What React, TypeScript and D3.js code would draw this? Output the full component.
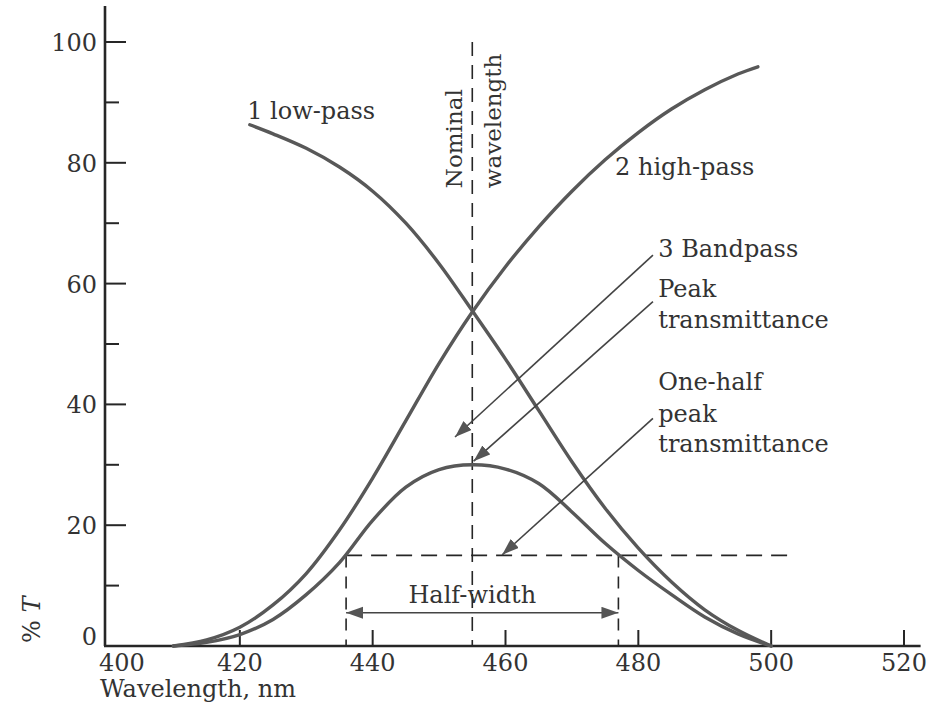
import React from "react";
import * as d3 from "d3";

// transmittance curves, [wavelength nm, %T]
const lowPass: [number, number][] = [
  [421.5, 86.3], [425, 84.8], [430, 82.4], [435, 79.3], [440, 75.3], [445, 70],
  [450, 63.3], [455, 55.5], [460, 47.5], [465, 39], [470, 30.5], [475, 22.8],
  [480, 16.2], [485, 10.6], [490, 6], [495, 2.6], [500, 0],
];
const highPass: [number, number][] = [
  [410, 0], [415, 1], [420, 3.1], [425, 6.8], [430, 12], [435, 19.2], [440, 27.8],
  [445, 37.3], [450, 46.8], [455, 55.3], [460, 62.8], [465, 69.4], [470, 75.3],
  [475, 80.5], [480, 85], [485, 88.9], [490, 92.1], [495, 94.7], [498, 95.9],
];
const bandPass: [number, number][] = [
  [410, 0], [415, 0.6], [420, 1.9], [425, 4.4], [430, 8.5], [435, 13.8], [440, 20.8],
  [445, 26.3], [450, 29.2], [455, 30], [460, 29.3], [465, 26.9], [470, 22.2],
  [475, 17], [480, 12.5], [485, 8.5], [490, 4.8], [495, 2], [500, 0],
];

const xTicks = [400, 420, 440, 460, 480, 500, 520];
const yTicks = [0, 20, 40, 60, 80, 100];
const yMinor = [10, 30, 50, 70, 90];

const nominal = 455;
const halfLevel = 15;
const halfLeft = 436;
const halfRight = 477;
const halfLineEnd = 502.5;
const halfArrowLevel = 5.5;

const curveLabels = [
  { text: "1 low-pass", x: 421.1, y: 87.2 },
  { text: "2 high-pass", x: 476.5, y: 78 },
];
const noteX = 483;
const noteLines = [
  { text: "3 Bandpass", y: 64.4 },
  { text: "Peak", y: 57.8 },
  { text: "transmittance", y: 52.6 },
  { text: "One-half", y: 42.4 },
  { text: "peak", y: 37.1 },
  { text: "transmittance", y: 32.1 },
];
const pointers = [
  { from: [482.2, 64.7], to: [452.4, 34.6] },
  { from: [482.2, 57.0], to: [455.2, 30.6] },
  { from: [482.2, 37.7], to: [459.5, 15.1] },
];

const W = 939;
const H = 709;
const font = "'DejaVu Serif', serif";
const ink = "#262626";
const textInk = "#333";
const curveInk = "#585858";

export default function App() {
  const x = d3.scaleLinear().domain([400, 520]).range([107, 904]);
  const y = d3.scaleLinear().domain([0, 100]).range([646, 42]);
  const line = d3
    .line<[number, number]>()
    .x((d) => x(d[0]))
    .y((d) => y(d[1]))
    .curve(d3.curveCatmullRom.alpha(0.5));

  return (
    <svg width={W} height={H} style={{ position: "absolute", left: 0, top: 0, background: "#fff" }}>
      <defs>
        <marker id="head" markerUnits="userSpaceOnUse" markerWidth={18} markerHeight={14}
          refX={17} refY={6} orient="auto-start-reverse">
          <path d="M0,0 L17,6 L0,12 Z" fill="#555" />
        </marker>
      </defs>

      {/* axes */}
      <line x1={105} x2={105} y1={6} y2={y(0)} stroke={ink} strokeWidth={2.6} />
      <line x1={104} x2={x(522.5)} y1={y(0)} y2={y(0)} stroke={ink} strokeWidth={2.6} />
      {yTicks.filter((t) => t > 0).map((t) => (
        <line key={"yt" + t} x1={105} x2={126} y1={y(t)} y2={y(t)} stroke={ink} strokeWidth={2} />
      ))}
      {yMinor.map((t) => (
        <line key={"ym" + t} x1={105} x2={119} y1={y(t)} y2={y(t)} stroke={ink} strokeWidth={2} />
      ))}
      {yTicks.map((t) => (
        <text key={"yl" + t} x={97} y={t === 0 ? y(t) - 1 : y(t) + 9} textAnchor="end"
          fontFamily={font} fontSize={24} fill={textInk}>{t}</text>
      ))}
      {xTicks.filter((t) => t > 400).map((t) => (
        <line key={"xt" + t} x1={x(t)} x2={x(t)} y1={y(0)} y2={y(0) - 16} stroke={ink} strokeWidth={2} />
      ))}
      {xTicks.map((t) => (
        <text key={"xl" + t} x={t === 400 ? x(t) - 8 : x(t)} y={671}
          textAnchor={t === 400 ? "start" : "middle"} fontFamily={font} fontSize={24} fill={textInk}>{t}</text>
      ))}
      <text x={100} y={697} fontFamily={font} fontSize={24} fill={textInk}>Wavelength, nm</text>
      <text transform="translate(40,643) rotate(-90)" fontFamily={font} fontSize={24} fill={textInk}>
        % <tspan fontStyle="italic">T</tspan>
      </text>

      {/* nominal wavelength */}
      <line x1={x(nominal)} x2={x(nominal)} y1={y(100)} y2={y(0)} stroke={ink}
        strokeWidth={1.6} strokeDasharray="14,9" />
      <text transform={`translate(${x(453.5)},${y(75.8)}) rotate(-90)`} fontFamily={font}
        fontSize={23} fill={textInk}>Nominal</text>
      <text transform={`translate(${x(459.3)},${y(75.8)}) rotate(-90)`} fontFamily={font}
        fontSize={23} fill={textInk}>wavelength</text>

      {/* half-width construction */}
      <line x1={x(halfLeft)} x2={x(halfLineEnd)} y1={y(halfLevel)} y2={y(halfLevel)} stroke={ink}
        strokeWidth={1.6} strokeDasharray="16,9" />
      {[halfLeft, halfRight].map((v) => (
        <line key={"hv" + v} x1={x(v)} x2={x(v)} y1={y(halfLevel)} y2={y(0)} stroke={ink}
          strokeWidth={1.6} strokeDasharray="12,9" />
      ))}
      <line x1={x(halfLeft)} x2={x(halfRight)} y1={y(halfArrowLevel)} y2={y(halfArrowLevel)}
        stroke="#444" strokeWidth={1.6} markerStart="url(#head)" markerEnd="url(#head)" />
      <text x={x(nominal)} y={y(7.1)} textAnchor="middle" fontFamily={font} fontSize={24}
        fill={textInk}>Half-width</text>

      {/* curves */}
      {[lowPass, highPass, bandPass].map((d, i) => (
        <path key={"c" + i} d={line(d) || ""} fill="none" stroke={curveInk} strokeWidth={3.4}
          strokeLinecap="round" />
      ))}

      {/* labels */}
      {curveLabels.map((l) => (
        <text key={l.text} x={x(l.x)} y={y(l.y)} fontFamily={font} fontSize={24} fill={textInk}>{l.text}</text>
      ))}
      {noteLines.map((l, i) => (
        <text key={"n" + i} x={x(noteX)} y={y(l.y)} fontFamily={font} fontSize={24} fill={textInk}>{l.text}</text>
      ))}
      {pointers.map((p, i) => (
        <line key={"p" + i} x1={x(p.from[0])} y1={y(p.from[1])} x2={x(p.to[0])} y2={y(p.to[1])}
          stroke="#444" strokeWidth={1.6} markerEnd="url(#head)" />
      ))}
    </svg>
  );
}
